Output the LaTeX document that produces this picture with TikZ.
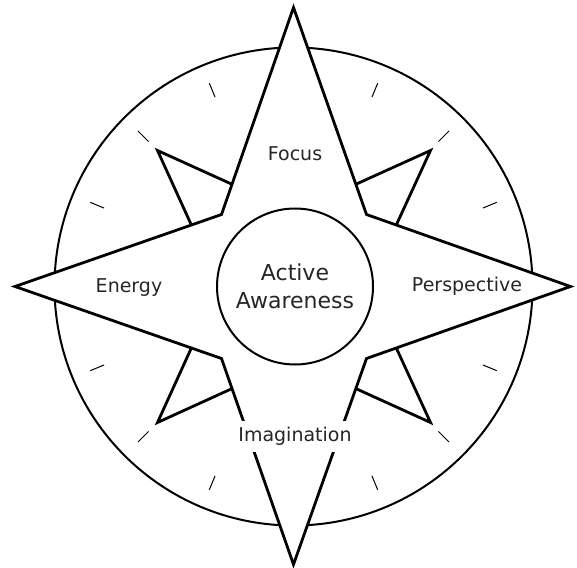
\documentclass[tikz,border=0pt]{standalone}
\usepackage{fontspec}
\setmainfont{DejaVu Sans}
\usetikzlibrary{calc}
\begin{document}
\begin{tikzpicture}[x=1pt,y=-1pt,
  starline/.style={line width=2.8pt,line join=miter},
  ringline/.style={line width=2pt},
  tickline/.style={line width=1pt},
  lbl/.style={font=\fontsize{19}{22}\selectfont,text=black!85,fill=white,inner xsep=2pt,inner ysep=4pt},
  biglbl/.style={font=\fontsize{22}{30}\selectfont,text=black!85,align=center}]
\useasboundingbox (0,0) rectangle (577,567);
\begin{scope}[shift={(293.5,286.5)}]
  % outer ring
  \draw[ringline] (0,0) circle[radius=239];
  % ticks
  \foreach \a in {22.5,45,67.5,112.5,135,157.5,202.5,225,247.5,292.5,315,337.5}
    \draw[tickline] (\a:205) -- (\a:220);
  % star points
  \coordinate (T) at (0,-279);
  \coordinate (B) at (0,278);
  \coordinate (L) at (-278.5,0);
  \coordinate (R) at (277,0);
  \coordinate (NW) at (-72,-72);
  \coordinate (NE) at (73,-72);
  \coordinate (SW) at (-72,72);
  \coordinate (SE) at (73,72);
  % small triangles
  \coordinate (aNW) at (-136,-136);
  \coordinate (aNE) at (137,-136);
  \coordinate (aSW) at (-136,136);
  \coordinate (aSE) at (137,136);
  \draw[starline] ($(T)!0.854!(NW)$) -- (aNW) -- ($(L)!0.854!(NW)$);
  \draw[starline] ($(T)!0.854!(NE)$) -- (aNE) -- ($(R)!0.854!(NE)$);
  \draw[starline] ($(B)!0.854!(SW)$) -- (aSW) -- ($(L)!0.854!(SW)$);
  \draw[starline] ($(B)!0.854!(SE)$) -- (aSE) -- ($(R)!0.854!(SE)$);
  % star
  \draw[starline,fill=white] (T) -- (NE) -- (R) -- (SE) -- (B) -- (SW) -- (L) -- (NW) -- cycle;
  % inner circle
  \node[draw,circle,ringline,fill=white,minimum size=156pt,inner sep=0pt] (core) at (1.5,0) {};
  \node[biglbl] (act) at (1.5,0) {Active\\[-2pt]Awareness};
  \node[lbl] (focus) at (1.5,-133) {Focus};
  \node[lbl] (energy) at (-164.5,1) {Energy};
  \node[lbl] (persp) at (173.5,0) {Perspective};
  \node[lbl,inner ysep=6pt] (imag) at (1.5,150) {Imagination};
\end{scope}
\end{tikzpicture}
\end{document}
